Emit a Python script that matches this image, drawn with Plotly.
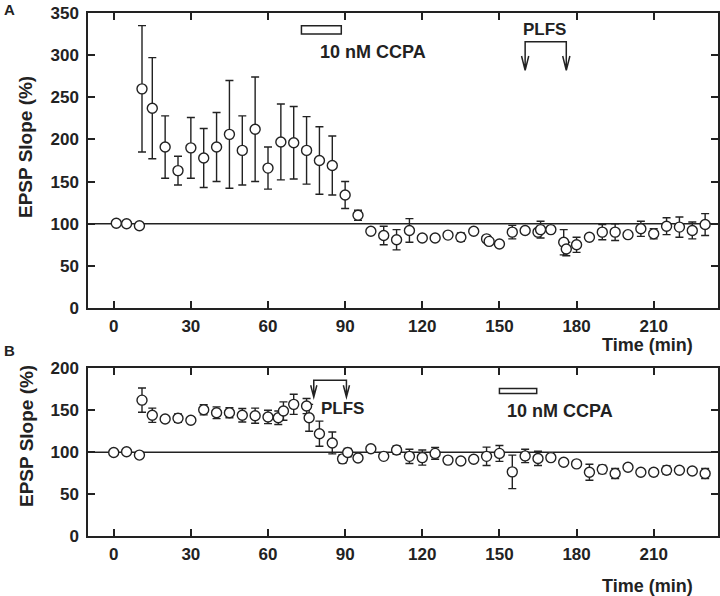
import plotly.graph_objects as go

# ---------------- data ----------------
# Panel A
time_a = [1, 5, 10, 11, 15, 20, 25, 30, 35, 40, 45, 50, 55, 60, 65, 70, 75, 80, 85, 90,
          95, 100, 105, 110, 115, 120, 125, 130, 135, 140, 145, 146, 150, 155, 160, 165,
          166, 170, 175, 176, 180, 185, 190, 195, 200, 205, 210, 215, 220, 225, 230]
slope_a = [100.5, 100, 97.5, 260, 237, 191, 163, 190, 178, 191, 206, 187, 212, 166, 197,
           196, 187, 175, 169, 134, 110, 91, 86, 81, 92, 83, 83, 86.5, 84, 91, 82, 79,
           76, 90, 92, 90, 93, 93, 78, 70, 75, 84, 90, 90, 87, 94, 88, 97, 96, 92, 99]
sem_a = [0, 0, 0, 75, 60, 37, 17, 36, 35, 41, 64, 41, 62, 25, 45, 43, 40, 40, 35, 16,
         6, 0, 11, 12, 14, 0, 0, 0, 5, 0, 0, 0, 0, 8, 0, 0, 10, 0, 15, 8, 9, 0, 9, 10,
         0, 9, 6, 10, 12, 10, 13]

# Panel B
time_b = [0, 5, 10, 11, 15, 20, 25, 30, 35, 40, 45, 50, 55, 60, 64, 66, 70, 75, 76, 80,
          85, 89, 91, 95, 100, 105, 110, 115, 120, 125, 130, 135, 140, 145, 150, 155, 160,
          165, 170, 175, 180, 185, 190, 195, 200, 205, 210, 215, 220, 225, 230]
slope_b = [99.5, 100.5, 96.5, 162, 144, 139.5, 140.5, 138, 150.5, 147, 147, 144, 143.5,
           142, 141, 149, 157, 155, 141, 122, 111, 92, 99.5, 93, 104, 95, 102.5, 95,
           93.5, 98.5, 90.5, 89.5, 91.5, 95, 98.5, 76.5, 95.5, 92.5, 93.5, 88, 86, 76,
           79.5, 74.5, 82, 76, 76, 78.5, 78.5, 77.5, 74.5]
sem_b = [0, 0, 0, 14.5, 8.5, 3, 5, 0, 6, 7, 6, 8, 9, 8, 8, 11, 12, 9, 16, 15, 13, 5, 5,
         0, 0, 0, 5, 8.5, 9, 7, 4, 0, 0, 11, 9.5, 20, 8, 8.5, 0, 0, 0, 9.5, 5, 6, 0, 0,
         4, 5, 0, 0, 6]

x_ticks = [0, 30, 60, 90, 120, 150, 180, 210]
y_ticks_a = [0, 50, 100, 150, 200, 250, 300, 350]
y_ticks_b = [0, 50, 100, 150, 200]

# ---------------- style ----------------
INK = "#222222"
FONT = "Liberation Sans, Arial, sans-serif"

fig = go.Figure()

def add_series(x, y, e, xa, ya):
    fig.add_trace(go.Scatter(
        x=x, y=y, mode="markers", xaxis=xa, yaxis=ya, showlegend=False,
        marker=dict(symbol="circle", size=10, color="white",
                    line=dict(color=INK, width=1.4)),
        error_y=dict(type="data", array=e, visible=True, color=INK,
                     thickness=1.4, width=4),
        cliponaxis=False,
    ))

add_series(time_a, slope_a, sem_a, "x", "y")
add_series(time_b, slope_b, sem_b, "x2", "y2")

xdom = [88 / 720, 718 / 720]
ydom_a = [1 - 308 / 596, 1 - 13 / 596]
ydom_b = [1 - 536 / 596, 1 - 368.3 / 596]

axis_common = dict(
    showline=True, linecolor=INK, linewidth=1.5, mirror="ticks",
    ticks="inside", ticklen=7, tickwidth=1.5, tickcolor=INK,
    showgrid=False, zeroline=False, automargin=False,
    tickfont=dict(family=FONT, size=17, color=INK, weight="bold"),
)

fig.update_layout(
    template="none",
    width=720, height=596, autosize=False,
    margin=dict(l=0, r=0, t=0, b=0, pad=0),
    paper_bgcolor="white", plot_bgcolor="white",
    font=dict(family=FONT, color=INK),
    xaxis=dict(domain=xdom, range=[-10, 235], tickvals=x_ticks, anchor="y",
               ticklabelstandoff=2, **axis_common),
    yaxis=dict(domain=ydom_a, range=[0, 350], tickvals=y_ticks_a, anchor="x",
               ticklabelstandoff=4, **axis_common),
    xaxis2=dict(domain=xdom, range=[-10, 235], tickvals=x_ticks, anchor="y2",
                ticklabelstandoff=2, **axis_common),
    yaxis2=dict(domain=ydom_b, range=[0, 200], tickvals=y_ticks_b, anchor="x2",
                ticklabelstandoff=4, **axis_common),
)

shapes = []
# baseline 100% lines
for xr, yr in (("x", "y"), ("x2", "y2")):
    shapes.append(dict(type="line", xref=xr + " domain", yref=yr, x0=0, x1=1,
                       y0=100, y1=100, line=dict(color=INK, width=1.5), layer="below"))
# CCPA bars
shapes.append(dict(type="rect", xref="x", yref="y", x0=73, x1=88.5, y0=325, y1=335,
                   line=dict(color=INK, width=1.5), fillcolor="white"))
shapes.append(dict(type="rect", xref="x2", yref="y2", x0=150, x1=164.5, y0=170, y1=176,
                   line=dict(color=INK, width=1.5), fillcolor="white"))

def bracket(xr, yr, xa, xb, ytop, ytip, hd, hw):
    path = (f"M {xa},{ytip} L {xa},{ytop} L {xb},{ytop} L {xb},{ytip} "
            f"M {xa-hw},{ytip+hd} L {xa},{ytip} L {xa+hw},{ytip+hd} "
            f"M {xb-hw},{ytip+hd} L {xb},{ytip} L {xb+hw},{ytip+hd}")
    shapes.append(dict(type="path", xref=xr, yref=yr, path=path,
                       line=dict(color=INK, width=1.5)))

bracket("x", "y", 160, 176, 316, 282, 17, 1.4)
bracket("x2", "y2", 77.8, 90.5, 185.7, 165.8, 14, 1.2)
fig.update_layout(shapes=shapes)

bold17 = dict(family=FONT, size=17, color=INK, weight="bold")
bold18 = dict(family=FONT, size=18, color=INK, weight="bold")
bold19 = dict(family=FONT, size=19, color=INK, weight="bold")
ann = [
    dict(text="10 nM CCPA", xref="x", yref="y", x=79.5, y=304, xanchor="left",
         yanchor="middle", showarrow=False, font=bold18),
    dict(text="PLFS", xref="x", yref="y", x=167.5, y=331, xanchor="center",
         yanchor="middle", showarrow=False, font=bold17),
    dict(text="10 nM CCPA", xref="x2", yref="y2", x=152.2, y=148.8, xanchor="left",
         yanchor="middle", showarrow=False, font=bold18),
    dict(text="PLFS", xref="x2", yref="y2", x=79.9, y=152, xanchor="left",
         yanchor="middle", showarrow=False, font=bold17),
    dict(text="Time (min)", xref="paper", yref="paper", x=647.5 / 720, y=1 - 345 / 596,
         xanchor="center", yanchor="middle", showarrow=False, font=bold18),
    dict(text="Time (min)", xref="paper", yref="paper", x=647 / 720, y=1 - 586 / 596,
         xanchor="center", yanchor="middle", showarrow=False, font=bold18),
    dict(text="EPSP Slope (%)", xref="paper", yref="paper", x=26 / 720, y=1 - 147 / 596,
         xanchor="center", yanchor="middle", textangle=-90, showarrow=False, font=bold19),
    dict(text="EPSP Slope (%)", xref="paper", yref="paper", x=26 / 720, y=1 - 436 / 596,
         xanchor="center", yanchor="middle", textangle=-90, showarrow=False, font=bold19),
    dict(text="A", xref="paper", yref="paper", x=2 / 720, y=1 - 9 / 596,
         xanchor="left", yanchor="middle", showarrow=False,
         font=dict(family=FONT, size=15, color=INK, weight="bold")),
    dict(text="B", xref="paper", yref="paper", x=2 / 720, y=1 - 350 / 596,
         xanchor="left", yanchor="middle", showarrow=False,
         font=dict(family=FONT, size=15, color=INK, weight="bold")),
]
fig.update_layout(annotations=ann)

fig.write_html("out.html", config={"displayModeBar": False},
               post_script="document.body.style.margin='0';"
                           "document.body.style.padding='0';")
